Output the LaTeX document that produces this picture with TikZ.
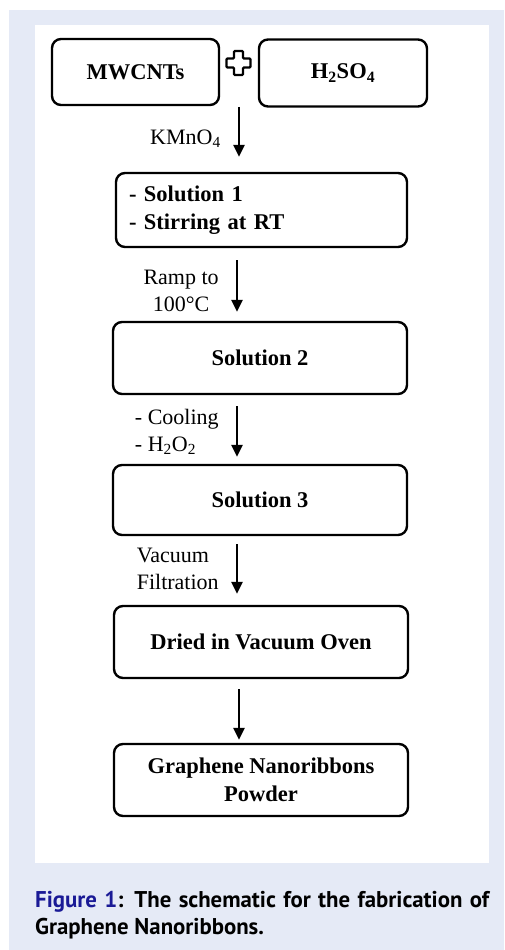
\documentclass[tikz,border=0pt]{standalone}
\usepackage{fontspec}
\setmainfont{Liberation Serif}
\newfontfamily\capfont{PT Sans}
\usetikzlibrary{arrows.meta,positioning,calc}
\definecolor{cPanel}{RGB}{229,234,246}
\definecolor{cFig}{RGB}{26,26,150}

\begin{document}
\begin{tikzpicture}[x=1pt, y=-1pt,
  box/.style={draw, line width=2.4pt, rounded corners=9pt, fill=white, font=\bfseries\fontsize{22.5}{28}\selectfont,
    minimum width=294pt, minimum height=72pt, inner sep=4pt},
  arr/.style={line width=2.6pt, -{Triangle[length=12pt,width=11pt]}},
  lbl/.style={font=\fontsize{22}{27}\selectfont, anchor=east, inner sep=0pt, xshift=-17pt},
  pluss/.style={draw, line width=2.4pt, fill=white, rounded corners=1pt},
  figcap/.style={font=\capfont\bfseries\fontsize{22.8}{27}\selectfont, text width=454pt, align=justify, inner sep=0pt}]
  \useasboundingbox (0,0) rectangle (504,950);
  \fill[cPanel] (9,10) rectangle (504,950);
  \fill[white] (35,25) rectangle (489,863);
  % starting materials
  \node[box, minimum width=167pt, minimum height=66pt] (mwcnt) at (135.5,72) {MWCNTs};
  \node[box, minimum width=168pt, minimum height=67pt] (acid) at (343,73) {H\textsubscript{2}SO\textsubscript{4}};
  \coordinate (pl) at (238.5,63);
  \draw[pluss, shift={(pl)}] (-4.5,-12) -- (4.5,-12) -- (4.5,-4.5) -- (12,-4.5) -- (12,4.5) -- (4.5,4.5)
    -- (4.5,12) -- (-4.5,12) -- (-4.5,4.5) -- (-12,4.5) -- (-12,-4.5) -- (-4.5,-4.5) -- cycle;
  \coordinate (mix) at ($(mwcnt.south east)!0.5!(acid.south west)$);
  % process steps
  \node[box, minimum width=291pt, minimum height=74pt, inner xsep=13pt, text width=265pt, align=left] (sol1) at (261.5,210)
    {- Solution 1\\- Stirring at RT};
  \node[box] (sol2) at (260,358) {Solution 2};
  \node[box, minimum height=70pt] (sol3) at (260,500) {Solution 3};
  \node[box] (dried) at (261,642) {Dried in Vacuum Oven};
  \node[box, align=center] (gnr) at (261,780) {Graphene Nanoribbons\\Powder};
  % arrows
  \draw[arr] (mix) -- ($(mix |- sol1.north)+(0,-15)$) node[lbl, pos=0.63] {KMnO\textsubscript{4}};
  \draw[arr] ($(mix |- sol1.south)+(-2,12)$) -- ($(mix |- sol2.north)+(-2,-9)$)
    node[lbl, pos=0.6, align=center] {Ramp to\\100°C};
  \draw[arr] ($(mix |- sol2.south)+(-2,11)$) -- ($(mix |- sol3.north)+(-2,-7)$)
    node[lbl, pos=0.5, align=left] {- Cooling\\- H\textsubscript{2}O\textsubscript{2}};
  \draw[arr] ($(mix |- sol3.south)+(-2,8)$) -- ($(mix |- dried.north)+(-2,-11)$)
    node[lbl, pos=0.5, align=left] {Vacuum\\Filtration};
  \draw[arr] ($(mix |- dried.south)+(0,10)$) -- ($(mix |- gnr.north)+(0,-3)$);
  % caption
  \node[figcap, anchor=north west] (capt) at (35,891)
    {{\color{cFig}Figure 1}: The schematic for the fabrication of Graphene Nanoribbons.};
\end{tikzpicture}
\end{document}
